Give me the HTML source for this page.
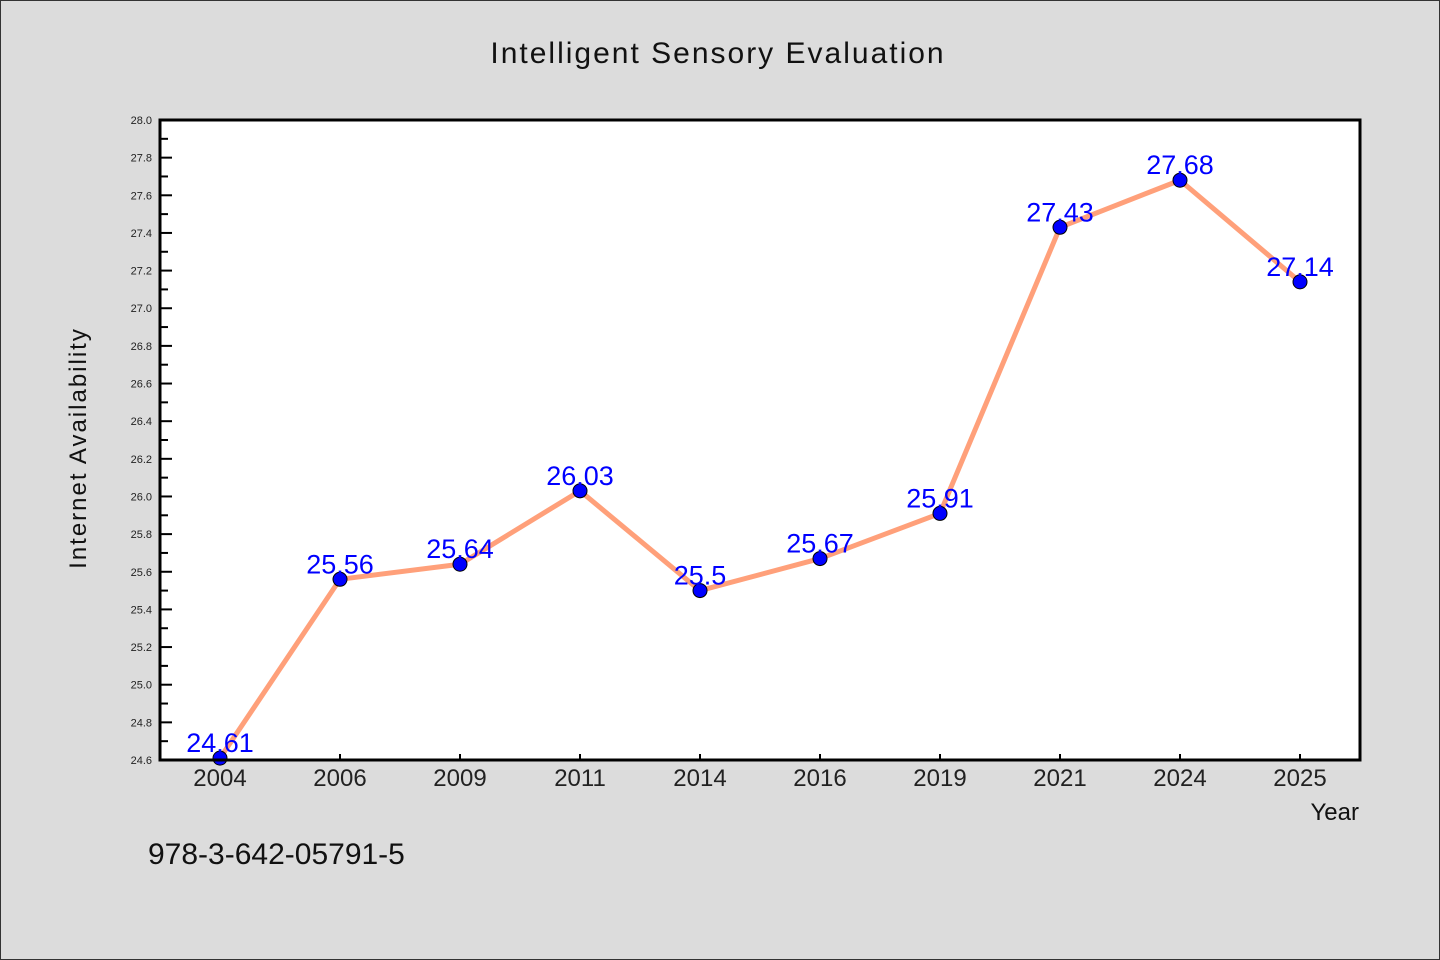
<!DOCTYPE html>
<html><head><meta charset="utf-8"><style>
html,body{margin:0;padding:0;background:#dcdcdc;}
svg{display:block;font-family:"WenQuanYi Zen Hei","Liberation Sans",sans-serif;}
</style></head><body>
<svg id="chart" width="1440" height="960" xmlns="http://www.w3.org/2000/svg">
<rect x="0.5" y="0.5" width="1439" height="959" fill="#dcdcdc" stroke="#333"/>
<text x="718" y="63" text-anchor="middle" font-size="30" fill="#111" letter-spacing="2">Intelligent Sensory Evaluation</text>
<rect x="160" y="120" width="1200" height="640" fill="#fff"/>
<g id="grid"></g>
<text transform="translate(86,448) rotate(-90)" text-anchor="middle" font-size="24" fill="#111" letter-spacing="2">Internet Availability</text>
<text x="1359" y="820" text-anchor="end" font-size="24" fill="#111">Year</text>
<text x="148" y="864" font-size="30" fill="#111">978-3-642-05791-5</text>
</svg>
<script>
const categories=["2004","2006","2009","2011","2014","2016","2019","2021","2024","2025"];
const values=[24.61,25.56,25.64,26.03,25.5,25.67,25.91,27.43,27.68,27.14];
const yTicks=[24.6,24.8,25.0,25.2,25.4,25.6,25.8,26.0,26.2,26.4,26.6,26.8,27.0,27.2,27.4,27.6,27.8,28.0];
const labels=["24.61","25.56","25.64","26.03","25.5","25.67","25.91","27.43","27.68","27.14"];
const L=160,R=1360,T=120,B=760,yMin=24.6,yMax=28.0;
const ns="http://www.w3.org/2000/svg";
const svg=document.getElementById('chart');
function y(v){return B-(v-yMin)/(yMax-yMin)*(B-T);}
function x(i){return L+(R-L)/categories.length*(i+0.5);}
function mk(t,a,p){const e=document.createElementNS(ns,t);for(const k in a)e.setAttribute(k,a[k]);(p||svg).appendChild(e);return e;}
yTicks.forEach((v,i)=>{
 const t=mk('line',{x1:L,x2:L+12,y1:y(v),y2:y(v),stroke:'#000','stroke-width':2});
 
 
 if(i<yTicks.length-1){const m=mk('line',{x1:L,x2:L+8,y1:y(v+0.1),y2:y(v+0.1),stroke:'#000','stroke-width':2});
 
 }
 const tx=mk('text',{x:152,y:y(v)+4,'text-anchor':'end','font-size':11,fill:'#222'});
 tx.textContent=v.toFixed(1);
 
 
});
categories.forEach((c,i)=>{
 const t=mk('line',{x1:x(i),x2:x(i),y1:B,y2:B-6,stroke:'#000','stroke-width':2});
 
 
 const tx=mk('text',{x:x(i),y:786,'text-anchor':'middle','font-size':24,fill:'#222'});
 tx.textContent=c;
 
 
});
const line=mk('polyline',{points:values.map((v,i)=>x(i)+','+y(v)).join(' '),fill:'none',stroke:'#ffa07a','stroke-width':5,'stroke-linejoin':'round'});


values.forEach((v,i)=>{
 const c=mk('circle',{cx:x(i),cy:y(v),r:7,fill:'#0000ff',stroke:'#000','stroke-width':1});
 
 
 const tx=mk('text',{x:x(i),y:y(v)-6,'text-anchor':'middle','font-size':27,fill:'#0000ff'});
 tx.textContent=labels[i];
 
 
});
const fr=mk('rect',{x:L,y:T,width:R-L,height:B-T,fill:'none',stroke:'#000','stroke-width':3});


</script>
</body></html>
